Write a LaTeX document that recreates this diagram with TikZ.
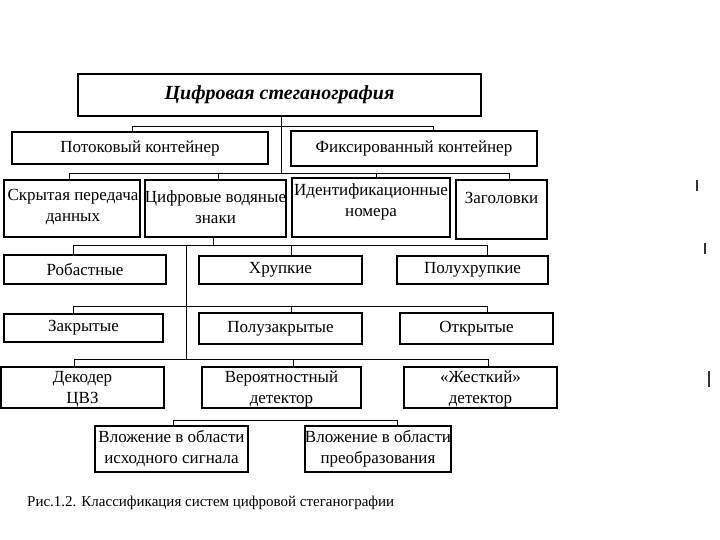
\documentclass[tikz,border=0pt]{standalone}
\usepackage{fontspec}
\setmainfont{Liberation Serif}
\begin{document}
\begin{tikzpicture}[x=1pt,y=-1pt,
  box/.style={draw,line width=1.1pt,inner sep=0pt,align=center,
    font=\fontsize{17}{21}\selectfont},
  txt/.style={inner sep=0pt,align=center,font=\fontsize{17}{21}\selectfont},
  con/.style={line width=0.9pt},
  stroke/.style={line width=1.4pt,black!80}]
\useasboundingbox[fill=white] (0,0) rectangle (720,540);
% level 1
\node[box,minimum width=403,minimum height=42,
  font=\fontsize{20}{22}\selectfont\bfseries\itshape] (title) at (279.5,95) {Цифровая стеганография};
% level 2
\node[box,minimum width=256,minimum height=32] (potok) at (140,148) {Потоковый контейнер};
\node[box,minimum width=246,minimum height=35] (fix) at (414,148.5) {Фиксированный контейнер};
% level 3
\node[box,minimum width=136,minimum height=57] (skryt) at (72,208.5) {};
\node[txt] (skryt-t) at (73,207) {Скрытая передача\\данных};
\node[box,minimum width=141,minimum height=57] (cvz) at (215.5,208.5) {};
\node[txt] (cvz-t) at (215.5,207) {Цифровые водяные\\знаки};
\node[box,minimum width=158,minimum height=59] (ident) at (371,207.5) {};
\node[txt] (ident-t) at (371,202) {Идентификационные\\номера};
\node[box,minimum width=91,minimum height=59] (zag) at (501.5,209.5) {};
\node[txt] (zag-t) at (501.5,197.5) {Заголовки};
% level 4
\node[box,minimum width=162,minimum height=29] (robast) at (85,269.5) {Робастные};
\node[box,minimum width=163,minimum height=28] (hrup) at (280.5,270) {Хрупкие};
\node[box,minimum width=151,minimum height=28] (poluhr) at (472.5,270) {Полухрупкие};
% level 5
\node[box,minimum width=159,minimum height=28] (zakr) at (83.5,328) {Закрытые};
\node[box,minimum width=163,minimum height=31] (poluz) at (280.5,328.5) {Полузакрытые};
\node[box,minimum width=153,minimum height=31] (otkr) at (476.5,328.5) {Открытые};
% level 6
\node[box,minimum width=163,minimum height=41] (dekod) at (82.5,387.5) {};
\node[txt] (dekod-t) at (82.5,389) {Декодер\\ЦВЗ};
\node[box,minimum width=159,minimum height=41] (veroyat) at (281.5,387.5) {};
\node[txt] (veroyat-t) at (281.5,389) {Вероятностный\\детектор};
\node[box,minimum width=153,minimum height=41] (zhest) at (480.5,387.5) {};
\node[txt] (zhest-t) at (480.5,389) {«Жесткий»\\детектор};
% level 7
\node[box,minimum width=153,minimum height=46] (vloz1) at (171.5,449) {Вложение в области\\исходного сигнала};
\node[box,minimum width=146,minimum height=46] (vloz2) at (378,449) {Вложение в области\\преобразования};
% caption
\node[anchor=west,inner sep=0pt,font=\fontsize{15}{17}\selectfont] (cap) at (27,503) {Рис.1.2. Классификация систем цифровой стеганографии};
% connectors
\coordinate (b1) at (281,126);
\coordinate (b2) at (281,173);
\draw[con] (title.south -| b1) -- (b2);
\draw[con] (potok.north -| 132,0) -- (132,126) -- (433,126) -- (fix.north -| 433,0);
\draw[con] (skryt.north -| 69,0) -- (69,173) -- (509,173) -- (zag.north -| 509,0);
\draw[con] (cvz.north -| 218,0) -- (218,173);
\draw[con] (ident.north -| 376,0) -- (376,173);
% level 4 bus
\draw[con] (cvz.south -| 213,0) -- (213,245);
\draw[con] (robast.north -| 73,0) -- (73,245) -- (487,245) -- (poluhr.north -| 487,0);
\draw[con] (hrup.north -| 291,0) -- (291,245);
\draw[con] (186,245) -- (186,359);
% level 5 bus
\draw[con] (zakr.north -| 73,0) -- (73,306) -- (487,306) -- (otkr.north -| 487,0);
\draw[con] (poluz.north -| 291,0) -- (291,306);
% level 6 bus
\draw[con] (dekod.north -| 74,0) -- (74,359) -- (488,359) -- (zhest.north -| 488,0);
\draw[con] (veroyat.north -| 293,0) -- (293,359);
% level 7 bus
\draw[con] (vloz1.north -| 173,0) -- (173,420) -- (397,420) -- (vloz2.north -| 397,0);
% stray marks at right edge
\draw[stroke] (697,180) -- (697,191);
\draw[stroke] (705,243) -- (705,254);
\draw[stroke] (709,371) -- (709,387);
\end{tikzpicture}
\end{document}
